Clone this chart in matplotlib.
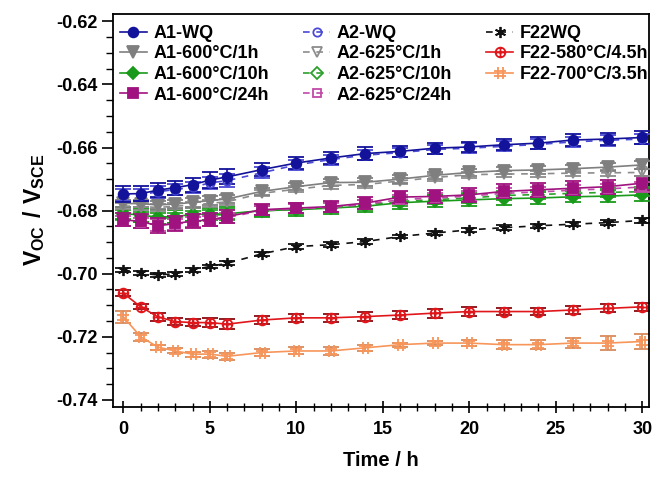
import matplotlib
matplotlib.use("Agg")
import matplotlib.pyplot as plt
import matplotlib.path as mpath
from matplotlib.ticker import MultipleLocator, FormatStrFormatter

plt.rcParams['font.family'] = ['Liberation Sans', 'DejaVu Sans']
plt.rcParams['font.weight'] = 'bold'
plt.rcParams['mathtext.fontset'] = 'custom'
plt.rcParams['mathtext.rm'] = 'Liberation Sans:bold'
plt.rcParams['mathtext.bf'] = 'Liberation Sans:bold'

# time / h
t = [0, 1, 2, 3, 4, 5, 6, 8, 10, 12, 14, 16, 18, 20, 22, 24, 26, 28, 30]

# potential values
a1_wq = [-0.6747, -0.6746, -0.6735, -0.6727, -0.6718, -0.6703, -0.6693, -0.6670, -0.6649, -0.6633,
         -0.6619, -0.6612, -0.6602, -0.6598, -0.6591, -0.6586, -0.6576, -0.6573, -0.6568]
a2_wq = [-0.6750, -0.6750, -0.6740, -0.6733, -0.6726, -0.6712, -0.6705, -0.6680, -0.6655, -0.6638,
         -0.6624, -0.6616, -0.6606, -0.6602, -0.6596, -0.6590, -0.6582, -0.6577, -0.6573]
a1_1h = [-0.6777, -0.6778, -0.6782, -0.6779, -0.6774, -0.6768, -0.6763, -0.6739, -0.6724, -0.6711,
         -0.6710, -0.6700, -0.6688, -0.6679, -0.6673, -0.6671, -0.6667, -0.6662, -0.6655]
a2_1h = [-0.6785, -0.6787, -0.6790, -0.6786, -0.6782, -0.6777, -0.6772, -0.6745, -0.6732, -0.6720,
         -0.6717, -0.6706, -0.6695, -0.6686, -0.6684, -0.6683, -0.6681, -0.6680, -0.6679]
a1_10h = [-0.6808, -0.6815, -0.6820, -0.6819, -0.6812, -0.6811, -0.6810, -0.6800, -0.6797, -0.6792,
          -0.6786, -0.6775, -0.6770, -0.6766, -0.6762, -0.6760, -0.6756, -0.6754, -0.6750]
a2_10h = [-0.6815, -0.6820, -0.6825, -0.6822, -0.6817, -0.6815, -0.6812, -0.6801, -0.6795, -0.6789,
          -0.6782, -0.6771, -0.6765, -0.6760, -0.6752, -0.6749, -0.6745, -0.6742, -0.6740]
a1_24h = [-0.6829, -0.6834, -0.6848, -0.6840, -0.6834, -0.6829, -0.6819, -0.6797, -0.6792, -0.6787,
          -0.6776, -0.6757, -0.6755, -0.6750, -0.6739, -0.6734, -0.6729, -0.6724, -0.6713]
a2_24h = [-0.6832, -0.6838, -0.6845, -0.6843, -0.6836, -0.6832, -0.6822, -0.6800, -0.6794, -0.6790,
          -0.6780, -0.6765, -0.6760, -0.6754, -0.6745, -0.6741, -0.6735, -0.6731, -0.6725]
f22_wq = [-0.6988, -0.6998, -0.7004, -0.7000, -0.6988, -0.6977, -0.6967, -0.6937, -0.6914, -0.6908,
          -0.6898, -0.6882, -0.6871, -0.6861, -0.6854, -0.6848, -0.6843, -0.6838, -0.6831]
f22_580 = [-0.7062, -0.7105, -0.7137, -0.7152, -0.7155, -0.7155, -0.7160, -0.7147, -0.7140, -0.7140,
           -0.7136, -0.7131, -0.7125, -0.7120, -0.7120, -0.7120, -0.7115, -0.7110, -0.7105]
f22_700 = [-0.7137, -0.7200, -0.7233, -0.7245, -0.7255, -0.7255, -0.7262, -0.7250, -0.7245, -0.7245,
           -0.7235, -0.7225, -0.7220, -0.7220, -0.7225, -0.7225, -0.7220, -0.7220, -0.7215]

# error bars
err_a1_wq = [0.0026, 0.0024, 0.0023, 0.0022, 0.0022, 0.0024, 0.0024, 0.0020, 0.0020, 0.0019,
             0.0020, 0.0018, 0.0017, 0.0017, 0.0018, 0.0019, 0.0020, 0.0020, 0.0020]
err_a2_wq = [0.0020, 0.0020, 0.0019, 0.0018, 0.0018, 0.0020, 0.0020, 0.0017, 0.0017, 0.0016,
             0.0016, 0.0015, 0.0015, 0.0015, 0.0016, 0.0016, 0.0017, 0.0017, 0.0017]
err_a1_1h = [0.0012, 0.0012, 0.0012, 0.0013, 0.0013, 0.0013, 0.0013, 0.0012, 0.0012, 0.0012,
             0.0012, 0.0012, 0.0012, 0.0012, 0.0012, 0.0012, 0.0012, 0.0012, 0.0012]
err_a2_1h = [0.0010, 0.0010, 0.0010, 0.0010, 0.0010, 0.0010, 0.0010, 0.0010, 0.0010, 0.0010,
             0.0010, 0.0010, 0.0010, 0.0010, 0.0010, 0.0010, 0.0010, 0.0010, 0.0010]
err_a1_10h = [0.0020, 0.0020, 0.0021, 0.0021, 0.0021, 0.0020, 0.0020, 0.0019, 0.0020, 0.0020,
              0.0019, 0.0019, 0.0019, 0.0018, 0.0019, 0.0019, 0.0018, 0.0018, 0.0018]
err_a2_10h = [0.0016, 0.0016, 0.0016, 0.0016, 0.0016, 0.0016, 0.0016, 0.0015, 0.0015, 0.0015,
              0.0015, 0.0015, 0.0015, 0.0015, 0.0015, 0.0015, 0.0015, 0.0015, 0.0015]
err_a1_24h = [0.0020, 0.0022, 0.0024, 0.0023, 0.0022, 0.0020, 0.0020, 0.0017, 0.0017, 0.0018,
              0.0020, 0.0020, 0.0020, 0.0022, 0.0022, 0.0022, 0.0022, 0.0022, 0.0022]
err_a2_24h = [0.0016, 0.0016, 0.0018, 0.0018, 0.0016, 0.0016, 0.0016, 0.0014, 0.0014, 0.0014,
              0.0015, 0.0015, 0.0016, 0.0016, 0.0016, 0.0016, 0.0016, 0.0016, 0.0016]
err_f22_wq = [0.0006, 0.0005, 0.0005, 0.0006, 0.0006, 0.0005, 0.0006, 0.0007, 0.0007, 0.0007,
              0.0007, 0.0006, 0.0006, 0.0007, 0.0007, 0.0007, 0.0007, 0.0007, 0.0008]
err_f22_580 = [0.0009, 0.0008, 0.0012, 0.0010, 0.0011, 0.0014, 0.0016, 0.0014, 0.0013, 0.0013,
               0.0014, 0.0014, 0.0014, 0.0015, 0.0010, 0.0010, 0.0014, 0.0013, 0.0013]
err_f22_700 = [0.0018, 0.0012, 0.0008, 0.0008, 0.0008, 0.0011, 0.0012, 0.0012, 0.0011, 0.0014,
               0.0010, 0.0006, 0.0007, 0.0010, 0.0014, 0.0014, 0.0017, 0.0021, 0.0025]

labels = ['A1-WQ', 'A1-600°C/1h', 'A1-600°C/10h', 'A1-600°C/24h',
          'A2-WQ', 'A2-625°C/1h', 'A2-625°C/10h', 'A2-625°C/24h',
          'F22WQ', 'F22-580°C/4.5h', 'F22-700°C/3.5h']

# custom markers: circle with cross, hash
Path = mpath.Path
circ_plus = Path.make_compound_path(Path.unit_circle(),
                                    Path([[-1, 0], [1, 0]]), Path([[0, -1], [0, 1]]))
hash_mark = Path.make_compound_path(Path([[-1, -0.45], [1, -0.45]]), Path([[-1, 0.45], [1, 0.45]]),
                                    Path([[-0.45, -1], [-0.45, 1]]), Path([[0.45, -1], [0.45, 1]]))

fig = plt.figure(figsize=(6.57, 4.78), dpi=100)
ax = fig.add_axes([0.172, 0.149, 0.816, 0.822])

handles = {}


def draw(name, y, e, color, marker, ls, filled, ms, z, ecolor=None):
    cont = ax.errorbar(t, y, yerr=e, color=color, ls=ls, lw=1.2, marker=marker, ms=ms,
                       mfc=color if filled else 'none', mec=color, mew=1.3,
                       ecolor=ecolor or color, elinewidth=1.2, capsize=6, capthick=1.3, zorder=z)
    handles[name] = cont[0]


draw('F22-700°C/3.5h', f22_700, err_f22_700, '#f7955a', hash_mark, '-', False, 8, 2, '#d98a5a')
draw('F22-580°C/4.5h', f22_580, err_f22_580, '#e0161b', circ_plus, '-', False, 7, 2, '#8a0a10')
draw('F22WQ', f22_wq, err_f22_wq, '#111111', (6, 2, 0), (0, (4, 4)), False, 8, 2)
draw('A2-625°C/10h', a2_10h, err_a2_10h, '#2ca02c', 'D', (0, (4, 4)), False, 6, 3)
draw('A1-600°C/10h', a1_10h, err_a1_10h, '#1a9a1a', 'D', '-', True, 6, 3)
draw('A2-625°C/24h', a2_24h, err_a2_24h, '#c04aa8', 's', (0, (4, 4)), False, 6, 4)
draw('A1-600°C/24h', a1_24h, err_a1_24h, '#a0127f', 's', '-', True, 7, 4)
draw('A2-625°C/1h', a2_1h, err_a2_1h, '#8c8c8c', 'v', (0, (4, 4)), False, 7, 5)
draw('A1-600°C/1h', a1_1h, err_a1_1h, '#7f7f7f', 'v', '-', True, 8, 5)
draw('A2-WQ', a2_wq, err_a2_wq, '#4a4ad6', 'o', (0, (4, 4)), False, 6, 6)
draw('A1-WQ', a1_wq, err_a1_wq, '#12129a', 'o', '-', True, 7, 6)

ax.set_xlim(-0.6, 30.4)
ax.set_ylim(-0.7422, -0.6176)
ax.xaxis.set_major_locator(MultipleLocator(5))
ax.xaxis.set_minor_locator(MultipleLocator(1))
ax.yaxis.set_major_locator(MultipleLocator(0.02))
ax.yaxis.set_minor_locator(MultipleLocator(0.005))
ax.yaxis.set_major_formatter(FormatStrFormatter('%.2f'))
ax.tick_params(axis='x', which='major', direction='inout', length=9, width=1.2,
               labelsize=13, pad=6)
ax.tick_params(axis='x', which='minor', direction='inout', length=6, width=1.0)
ax.tick_params(axis='y', which='major', direction='out', length=8, width=1.2,
               labelsize=13, pad=3)
ax.tick_params(axis='y', which='minor', direction='out', length=5, width=1.0)
for sp in ax.spines.values():
    sp.set_linewidth(1.3)

ax.set_xlabel('Time / h', fontsize=14.5, fontweight='bold', labelpad=9)
ax.set_ylabel(r'$\mathbf{V_{OC}\ /\ V_{SCE}}$', fontsize=16.5, labelpad=7)

ax.legend([handles[n] for n in labels], labels, ncol=3, loc='upper left',
          bbox_to_anchor=(0.0125, 0.972), frameon=False, fontsize=13,
          handlelength=1.5, handletextpad=0.35, columnspacing=1.9,
          labelspacing=0.2, borderpad=0, borderaxespad=0)

fig.savefig('out.png', dpi=100)
